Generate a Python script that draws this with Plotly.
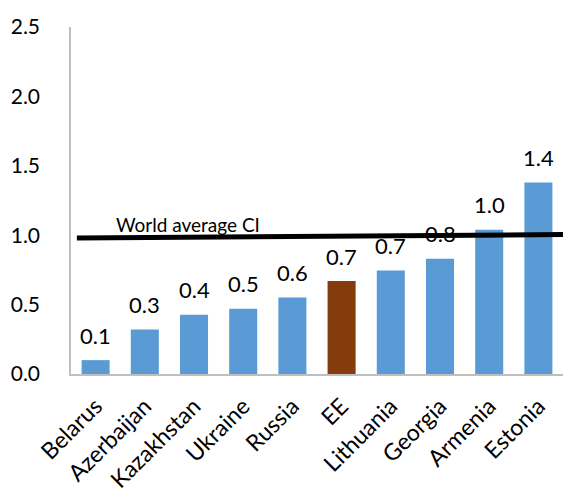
import plotly.graph_objects as go

# Carbon intensity by country, relative to the world average
countries = ["Belarus", "Azerbaijan", "Kazakhstan", "Ukraine", "Russia",
             "EE", "Lithuania", "Georgia", "Armenia", "Estonia"]
ci_values = [0.10, 0.32, 0.426, 0.47, 0.552, 0.67, 0.745, 0.83, 1.04, 1.38]
highlight = "EE"

# World average line end points (left, right) and its label
world_avg_ends = [0.98, 1.005]
world_avg_label = "World average CI"

y_ticks = [0.0, 0.5, 1.0, 1.5, 2.0, 2.5]

BLUE = "#5B9BD5"
BROWN = "#843C0C"
FONT = "Lato, Open Sans, sans-serif"

colors = [BROWN if c == highlight else BLUE for c in countries]

fig = go.Figure()
fig.add_trace(go.Bar(
    x=countries, y=ci_values,
    marker=dict(color=colors, line=dict(width=0)),
    width=0.57,
    hoverinfo="x+y",
))

# value labels above each bar
for c, v in zip(countries, ci_values):
    fig.add_annotation(
        x=c, y=v, text=f"{v:.1f}", showarrow=False,
        xref="x", yref="y", yanchor="middle", yshift=25,
        font=dict(family=FONT, size=22, color="#000000"),
    )

# world average reference line
fig.add_shape(
    type="line", xref="paper", yref="y",
    x0=0.012, x1=1.0, y0=world_avg_ends[0], y1=world_avg_ends[1],
    line=dict(color="#000000", width=5),
)
fig.add_annotation(
    x=0.088, y=world_avg_ends[0], xref="paper", yref="y",
    text=world_avg_label, showarrow=False,
    xanchor="left", yanchor="bottom", yshift=0,
    font=dict(family=FONT, size=19, color="#000000"),
)

fig.update_layout(
    width=563, height=493,
    margin=dict(l=71, r=0, t=27, b=116),
    paper_bgcolor="white", plot_bgcolor="white",
    showlegend=False,
    font=dict(family=FONT, color="#000000"),
    xaxis=dict(
        type="category", showgrid=False, zeroline=False,
        showline=True, linecolor="#BFBFBF", linewidth=1.5,
        ticks="", tickangle=-45, ticklabelstandoff=8,
        tickfont=dict(family=FONT, size=23, color="#000000"),
    ),
    yaxis=dict(
        range=[0, 2.5], tickvals=y_ticks,
        ticktext=[f"{t:.1f}" for t in y_ticks],
        showgrid=False, zeroline=False,
        showline=True, linecolor="#BFBFBF", linewidth=1.5,
        ticks="", ticklabelstandoff=25,
        tickfont=dict(family=FONT, size=21, color="#000000"),
    ),
)

fig.write_html("out.html")
